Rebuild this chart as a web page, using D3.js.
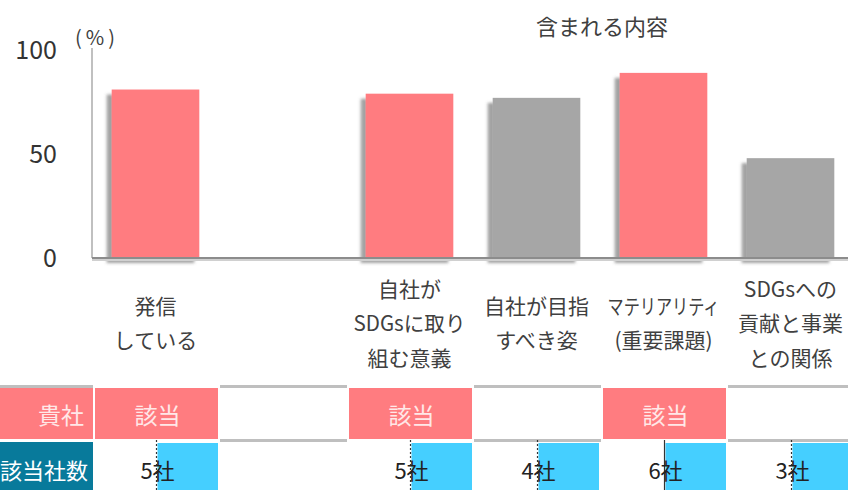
<!DOCTYPE html>
<html>
<head>
<meta charset="utf-8">
<script src="https://cdn.jsdelivr.net/npm/d3@7"></script>
<style>
  body { margin: 0; background: #fff; }
  svg { display: block; font-family: "Noto Sans CJK JP", "Noto Sans", sans-serif; }
</style>
</head>
<body>
<svg id="chart" width="848" height="490"></svg>
<script>
// slots along the x axis (slot 2 is an empty spacer column)
const categoryLines = [
  ['発信', 'している'],
  [],
  ['自社が', 'SDGsに取り', '組む意義'],
  ['自社が目指', 'すべき姿'],
  ['マテリアリティ', '(重要課題)'],
  ['SDGsへの', '貢献と事業', 'との関係'],
];
const values = [81, null, 79, 77, 89, 48];
const ourCompany = [true, false, true, false, true, false];
const companyCounts = [5, null, 5, 4, 6, 3];
const yTicks = [0, 50, 100];

const PINK = '#ff7c80';
const GREY = '#a6a6a6';
const CYAN = '#45cfff';
const TEAL = '#087a9b';

const svg = d3.select('#chart');
const slots = d3.range(values.length);

const x = d3.scaleBand()
  .domain(slots)
  .range([92, 92 + 127 * slots.length])
  .paddingInner(0.31)
  .paddingOuter(0.155);
const y = d3.scaleLinear()
  .domain([0, 100])
  .range([258, 50]);
const step = x.step();
const slotStart = i => x(i) - x.step() * x.paddingOuter();

const defs = svg.append('defs');
defs.append('filter')
  .attr('id', 'shadow')
  .attr('x', '-20%').attr('y', '-10%')
  .attr('width', '140%').attr('height', '120%')
  .append('feDropShadow')
  .attr('dx', -5).attr('dy', 5)
  .attr('stdDeviation', 1.4)
  .attr('flood-color', '#555')
  .attr('flood-opacity', 0.55);

// title
svg.append('text')
  .attr('x', 602).attr('y', 25)
  .attr('text-anchor', 'middle')
  .attr('dominant-baseline', 'central')
  .attr('font-size', 22)
  .attr('fill', '#404040')
  .text('含まれる内容');

// y axis
const yAxis = svg.append('g')
  .attr('class', 'axis y-axis')
  .attr('transform', 'translate(57,0)')
  .call(d3.axisLeft(y).tickValues(yTicks).tickSize(0).tickPadding(0));
yAxis.select('.domain').remove();
yAxis.selectAll('text')
  .attr('font-size', 25)
  .attr('font-family', '"Noto Sans CJK JP", sans-serif')
  .attr('fill', '#333');

svg.append('text')
  .attr('x', 97).attr('y', 36)
  .attr('text-anchor', 'middle')
  .attr('dominant-baseline', 'central')
  .attr('font-size', 20)
  .attr('letter-spacing', 4)
  .attr('fill', '#404040')
  .text('(%)');

svg.append('line')
  .attr('x1', 92).attr('x2', 92)
  .attr('y1', y(100) - 2).attr('y2', y(0))
  .attr('stroke', '#c0c0c0')
  .attr('stroke-width', 2);

// bars
svg.append('g')
  .attr('class', 'bars')
  .selectAll('rect')
  .data(slots.filter(i => values[i] != null))
  .join('rect')
  .attr('x', i => x(i))
  .attr('y', i => y(values[i]))
  .attr('width', x.bandwidth())
  .attr('height', i => y(0) - y(values[i]))
  .attr('fill', i => ourCompany[i] ? PINK : GREY)
  .attr('filter', 'url(#shadow)');

// x axis baseline
svg.append('line')
  .attr('x1', 92).attr('x2', 848)
  .attr('y1', y(0) + 2).attr('y2', y(0) + 2)
  .attr('stroke', '#d0d0d0')
  .attr('stroke-width', 2);
svg.append('line')
  .attr('x1', 92).attr('x2', 848)
  .attr('y1', y(0)).attr('y2', y(0))
  .attr('stroke', '#8c8c8c')
  .attr('stroke-width', 2);

// category labels
const lineH = 34.5;
const maxLabelW = 112;
svg.append('g')
  .attr('class', 'x-labels')
  .selectAll('text')
  .data(slots)
  .join('text')
  .attr('text-anchor', 'middle')
  .attr('font-size', 21)
  .attr('fill', '#404040')
  .each(function (i) {
    const lines = categoryLines[i];
    const cx = x(i) + x.bandwidth() / 2;
    const top = 322 - (lines.length - 1) * lineH / 2;
    d3.select(this).selectAll('tspan')
      .data(lines)
      .join('tspan')
      .attr('x', cx)
      .attr('y', (d, k) => top + k * lineH)
      .attr('dominant-baseline', 'central')
      .text(d => d)
      .each(function () {
        if (this.getComputedTextLength() > maxLabelW) {
          d3.select(this)
            .attr('textLength', maxLabelW)
            .attr('lengthAdjust', 'spacingAndGlyphs');
        }
      });
  });

// table row 1: 貴社
const r1Top = 388, r1Bot = 439;
const r2Top = 443, r2Bot = 492;
const table = svg.append('g').attr('class', 'table');

table.append('rect')
  .attr('x', 0).attr('y', r1Top - 3)
  .attr('width', 93).attr('height', 3)
  .attr('fill', '#bfbfbf');
table.append('rect')
  .attr('x', 0).attr('y', r1Top)
  .attr('width', 93).attr('height', r1Bot - r1Top)
  .attr('fill', PINK);
table.append('text')
  .attr('x', 84).attr('y', (r1Top + r1Bot) / 2)
  .attr('text-anchor', 'end')
  .attr('dominant-baseline', 'central')
  .attr('font-size', 23)
  .attr('fill', '#ffe8e8')
  .text('貴社');

const row1 = table.append('g')
  .selectAll('g')
  .data(slots)
  .join('g');
row1.filter(i => ourCompany[i])
  .append('rect')
  .attr('x', i => slotStart(i) + 3)
  .attr('y', r1Top)
  .attr('width', step - 4)
  .attr('height', r1Bot - r1Top)
  .attr('fill', PINK);
row1.filter(i => ourCompany[i])
  .append('text')
  .attr('x', i => x(i) + x.bandwidth() / 2 + 2)
  .attr('y', (r1Top + r1Bot) / 2)
  .attr('text-anchor', 'middle')
  .attr('dominant-baseline', 'central')
  .attr('font-size', 23)
  .attr('fill', '#ffe8e8')
  .text('該当');
row1.filter(i => !ourCompany[i])
  .selectAll('rect')
  .data(i => [[i, r1Top - 3], [i, r1Bot]])
  .join('rect')
  .attr('x', d => slotStart(d[0]) + 1)
  .attr('y', d => d[1])
  .attr('width', step)
  .attr('height', 3)
  .attr('fill', '#bfbfbf');

// table row 2: 該当社数
table.append('rect')
  .attr('x', 0).attr('y', r2Top - 1)
  .attr('width', 93).attr('height', r2Bot - r2Top + 1)
  .attr('fill', TEAL);
table.append('text')
  .attr('x', 88).attr('y', 469)
  .attr('text-anchor', 'end')
  .attr('dominant-baseline', 'central')
  .attr('font-size', 22)
  .attr('fill', '#fff')
  .text('該当社数');

const maxCount = d3.max(companyCounts);
const row2 = table.append('g')
  .selectAll('g')
  .data(slots.filter(i => companyCounts[i] != null))
  .join('g');
row2.append('rect')
  .attr('x', i => x(i) + x.bandwidth() / 2 + 2)
  .attr('y', r2Top)
  .attr('width', step / 2 - 3)
  .attr('height', r2Bot - r2Top)
  .attr('fill', CYAN);
row2.append('line')
  .attr('x1', i => x(i) + x.bandwidth() / 2 + 1)
  .attr('x2', i => x(i) + x.bandwidth() / 2 + 1)
  .attr('y1', r2Top - 3).attr('y2', r2Bot)
  .attr('stroke', '#333')
  .attr('stroke-width', 1.2)
  .attr('stroke-dasharray', i => companyCounts[i] === maxCount ? null : '2,2');
row2.append('text')
  .attr('x', i => x(i) + x.bandwidth() / 2 + 2)
  .attr('y', 469)
  .attr('text-anchor', 'middle')
  .attr('dominant-baseline', 'central')
  .attr('font-size', 22)
  .attr('fill', '#222')
  .text(i => companyCounts[i] + '社');
</script>
</body>
</html>
